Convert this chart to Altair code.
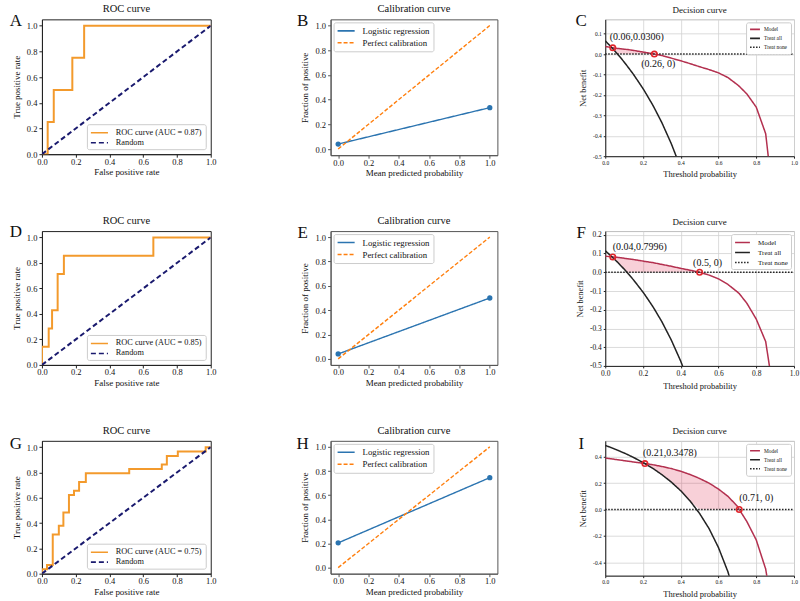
import altair as alt
import pandas as pd

SERIF = "Liberation Serif"
INK = "#111111"
ORANGE = "#F39A2C"
NAVY = "#1a1a6e"
BLUE = "#2b74b0"
TAB_ORANGE = "#ff7f0e"
CRIMSON = "#b3304f"
MARK_RED = "#e0262c"
PATH_LONG = "M-1,0H2.8"
PATH_SHORT = "M-1,0H2.3"

# ---------------- data ----------------
roc_titles = "ROC curve"
cal_title = "Calibration curve"
dca_title = "Decision curve"

# ROC curves
roc_a_fpr = [0.0, 0.034, 0.034, 0.07, 0.07, 0.18, 0.18, 0.25, 0.25, 1.0]
roc_a_tpr = [0.0, 0.0, 0.25, 0.25, 0.5, 0.5, 0.75, 0.75, 1.0, 1.0]
roc_d_fpr = [0.0, 0.0, 0.04, 0.04, 0.06, 0.06, 0.093, 0.093, 0.13, 0.13, 0.66, 0.66, 1.0]
roc_d_tpr = [0.0, 0.143, 0.143, 0.286, 0.286, 0.429, 0.429, 0.714, 0.714, 0.857, 0.857, 1.0, 1.0]
roc_g_fpr = [0.0, 0.0, 0.03, 0.03, 0.064, 0.064, 0.1, 0.1, 0.127, 0.127, 0.16, 0.16, 0.19, 0.19,
             0.22, 0.22, 0.26, 0.26, 0.517, 0.517, 0.71, 0.71, 0.74, 0.74, 0.805, 0.805, 0.97, 0.97, 1.0]
roc_g_tpr = [0.0, 0.034, 0.034, 0.069, 0.069, 0.31, 0.31, 0.379, 0.379, 0.483, 0.483, 0.621, 0.621, 0.655,
             0.655, 0.724, 0.724, 0.793, 0.793, 0.828, 0.828, 0.862, 0.862, 0.931, 0.931, 0.966, 0.966, 1.0, 1.0]
roc_labels = ["ROC curve (AUC = 0.87)", "ROC curve (AUC = 0.85)", "ROC curve (AUC = 0.75)"]
random_x = [0.0, 1.0]
random_y = [0.0, 1.0]

# Calibration curves
cal_x = [0.0, 1.0]
cal_b_y = [0.04, 0.335]
cal_e_y = [0.04, 0.50]
cal_h_y = [0.205, 0.745]
perfect_x = [0.0, 1.0]
perfect_y = [0.0, 1.0]

# Decision curves
dca_thr = [0.0, 0.02, 0.04, 0.06, 0.08, 0.1, 0.12, 0.15, 0.2, 0.21, 0.25, 0.26, 0.3, 0.35,
           0.4, 0.45, 0.5, 0.55, 0.6, 0.65, 0.7, 0.71, 0.75, 0.8, 0.85, 0.9]
model_c = [0.037, 0.034, 0.0306, 0.028, 0.026, 0.024, 0.022, 0.018, 0.01, 0.0085, 0.002, 0.0, -0.007,
           -0.02, -0.033, -0.047, -0.062, -0.076, -0.092, -0.115, -0.15, -0.158, -0.195, -0.26, -0.39, -0.8]
all_c = [0.065, 0.046, 0.026, 0.005, -0.016, -0.039, -0.063, -0.100, -0.169, -0.184, -0.247, -0.264,
         -0.336, -0.439, -0.558, None, None, None, None, None, None, None, None, None, None, None]
model_f = [0.086, 0.084, 0.082, 0.080, 0.078, 0.075, 0.072, 0.068, 0.060, 0.058, 0.052, 0.050, 0.042,
           0.032, 0.021, 0.011, 0.0, -0.015, -0.035, -0.065, -0.105, -0.114, -0.165, -0.25, -0.37, -0.7]
all_f = [0.115, 0.097, 0.078, 0.059, 0.038, 0.017, -0.006, -0.041, -0.106, -0.120, -0.180, -0.196,
         -0.264, -0.362, -0.475, -0.609, None, None, None, None, None, None, None, None, None, None]
model_i = [0.39, 0.386, 0.382, 0.378, 0.374, 0.37, 0.366, 0.36, 0.35, 0.3478, 0.34, 0.337, 0.326,
           0.31, 0.29, 0.265, 0.235, 0.2, 0.155, 0.1, 0.025, 0.0, -0.09, -0.23, -0.45, -0.9]
all_i = [0.485, 0.475, 0.464, 0.452, 0.440, 0.428, 0.415, 0.394, 0.356, 0.348, 0.313, 0.304, 0.264,
         0.208, 0.142, 0.064, -0.030, -0.144, -0.288, -0.471, -0.717, None, None, None, None, None]
none_x = [0.0, 1.0]
none_y = [0.0, 0.0]

mark_c_x, mark_c_y = [0.04, 0.26], [0.0306, 0.0]
mark_f_x, mark_f_y = [0.04, 0.5], [0.082, 0.0]
mark_i_x, mark_i_y = [0.21, 0.71], [0.3478, 0.0]
mark_c_txt = ["(0.06,0.0306)", "(0.26, 0)"]
mark_f_txt = ["(0.04,0.7996)", "(0.5, 0)"]
mark_i_txt = ["(0.21,0.3478)", "(0.71, 0)"]
fill_c = (0.04, 0.26)
fill_f = (0.04, 0.5)
fill_i = (0.21, 0.71)

ticks01 = [0.0, 0.2, 0.4, 0.6, 0.8, 1.0]
MINUS_FIX = "replace(format(datum.value, '.1f'), '\u2212', '-')"


def axis(title, values, lab=8.5, tit=9.0, grid=False, dom="#222222", tick=3, lpad=2, tpad=5):
    return alt.Axis(title=title, values=values, labelExpr=MINUS_FIX,
                    labelFont=SERIF, labelFontSize=lab, labelColor=INK, labelPadding=lpad,
                    labelFlush=False, labelOverlap=False,
                    titleFont=SERIF, titleFontSize=tit, titleFontWeight="normal", titleColor=INK,
                    titlePadding=tpad, tickColor=dom, tickSize=tick, domainColor=dom,
                    grid=grid, gridColor="#d2d2d2", gridWidth=0.8)


def letter_layer(letter, dx, dy):
    return alt.Chart(pd.DataFrame({"t": [letter]})).mark_text(
        font=SERIF, fontSize=17, align="center", baseline="middle", color=INK
    ).encode(text="t:N", x=alt.value(dx), y=alt.value(dy))


def title(text, ldy, size=10.5):
    # the panel letter reaches above the plot; compensate so the title sits ~4px above the frame
    return alt.TitleParams(text, font=SERIF, fontSize=size, fontWeight="normal", color=INK,
                           offset=ldy - 4.5, anchor="middle", frame="group")


def legend(orient, fs, sym, path, offset=4, pad=3, rowpad=0, loff=8):
    return alt.Legend(title=None, orient=orient, offset=offset, fillColor="white",
                      strokeColor="#cccccc", cornerRadius=2, padding=pad, labelFont=SERIF,
                      labelFontSize=fs, labelColor=INK, symbolType=path, symbolSize=sym,
                      symbolStrokeWidth=1.6, rowPadding=rowpad, labelOffset=loff)


def roc_panel(letter, fpr, tpr, label, w, h, ldx, ldy):
    d1 = pd.DataFrame({"x": fpr, "y": tpr, "s": label, "i": list(range(len(fpr)))})
    d2 = pd.DataFrame({"x": random_x, "y": random_y, "s": "Random", "i": [0, 1]})
    df = pd.concat([d1, d2], ignore_index=True)
    dom = [label, "Random"]
    leg = legend("bottom-right", 8.3, 81, PATH_LONG, offset=5, pad=3, rowpad=1, loff=15)
    lines = alt.Chart(df).mark_line(strokeWidth=2, clip=True).encode(
        x=alt.X("x:Q", scale=alt.Scale(domain=[0, 1], nice=False, zero=False),
                axis=axis("False positive rate", ticks01, lpad=0, tpad=2)),
        y=alt.Y("y:Q", scale=alt.Scale(domain=[0, 1.05], nice=False, zero=False),
                axis=axis("True positive rate", ticks01)),
        color=alt.Color("s:N", scale=alt.Scale(domain=dom, range=[ORANGE, NAVY]), legend=leg),
        strokeDash=alt.StrokeDash("s:N", scale=alt.Scale(domain=dom, range=[[1, 0], [5, 3]]), legend=leg),
        order="i:Q",
    )
    return alt.layer(lines, letter_layer(letter, ldx, ldy)).properties(
        width=w, height=h, title=title(roc_titles, ldy),
        view=alt.ViewBackground(stroke="#222222", strokeWidth=1))


def cal_panel(letter, ys, w, h, ldx, ldy):
    d1 = pd.DataFrame({"x": cal_x, "y": ys, "s": "Logistic regression"})
    d2 = pd.DataFrame({"x": perfect_x, "y": perfect_y, "s": "Perfect calibration"})
    df = pd.concat([d1, d2], ignore_index=True)
    dom = ["Logistic regression", "Perfect calibration"]
    leg = legend("top-left", 8.8, 81, PATH_LONG, offset=3, pad=3, rowpad=1, loff=15)
    xs = alt.X("x:Q", scale=alt.Scale(domain=[-0.05, 1.05], nice=False, zero=False),
               axis=axis("Mean predicted probability", ticks01, dom="#555555", lpad=0, tpad=2))
    ysc = alt.Y("y:Q", scale=alt.Scale(domain=[-0.05, 1.05], nice=False, zero=False),
                axis=axis("Fraction of positive", ticks01, dom="#555555"))
    lines = alt.Chart(df).mark_line(strokeWidth=1.4, clip=True).encode(
        x=xs, y=ysc,
        color=alt.Color("s:N", scale=alt.Scale(domain=dom, range=[BLUE, TAB_ORANGE]), legend=leg),
        strokeDash=alt.StrokeDash("s:N", scale=alt.Scale(domain=dom, range=[[1, 0], [4, 2]]), legend=leg),
    )
    pts = alt.Chart(d1).mark_point(filled=True, size=28, color=BLUE, opacity=1).encode(x=xs, y=ysc)
    return alt.layer(lines, pts, letter_layer(letter, ldx, ldy)).properties(
        width=w, height=h, title=title(cal_title, ldy),
        view=alt.ViewBackground(stroke="#555555", strokeWidth=1))


def dca_panel(letter, model, allv, ytop, yticks, mx, my, mtxt, offs, frange, w, h, ldx, ldy,
              tick_fs, leg_fs, leg_sym, leg_off):
    rows = []
    for t, m in zip(dca_thr, model):
        rows.append({"x": t, "y": m, "s": "Model"})
    for t, a in zip(dca_thr, allv):
        if a is not None:
            rows.append({"x": t, "y": a, "s": "Treat all"})
    for t, n in zip(none_x, none_y):
        rows.append({"x": t, "y": n, "s": "Treat none"})
    df = pd.DataFrame(rows)
    fill_rows = []
    for t, m, a in zip(dca_thr, model, allv):
        if frange[0] <= t <= frange[1]:
            lower = 0.0 if a is None else max(a, 0.0)
            fill_rows.append({"x": t, "y": m, "bot": lower})
    fdf = pd.DataFrame(fill_rows)
    dom = ["Model", "Treat all", "Treat none"]
    leg = legend("top-right", leg_fs, leg_sym, PATH_SHORT, offset=3, pad=3, rowpad=1, loff=leg_off)
    xs = alt.X("x:Q", scale=alt.Scale(domain=[0, 1], nice=False, zero=False),
               axis=axis("Threshold probability", ticks01, lab=tick_fs, tit=8.5, grid=True, tick=2, tpad=4))
    ysc = alt.Y("y:Q", scale=alt.Scale(domain=[-0.5, ytop], nice=False, zero=False),
                axis=axis("Net benefit", yticks, lab=tick_fs, tit=8.3, grid=True, tick=2, tpad=5))
    area = alt.Chart(fdf).mark_area(color="#dc143c", opacity=0.2, clip=True).encode(
        x=xs, y=ysc, y2="bot:Q")
    lines = alt.Chart(df).mark_line(strokeWidth=1.5, clip=True).encode(
        x=xs, y=ysc,
        color=alt.Color("s:N", scale=alt.Scale(domain=dom, range=[CRIMSON, "#222222", "#222222"]), legend=leg),
        strokeDash=alt.StrokeDash("s:N", scale=alt.Scale(domain=dom, range=[[1, 0], [1, 0], [1.5, 1.5]]), legend=leg),
    )
    mdf = pd.DataFrame({"x": mx, "y": my, "t": mtxt})
    pts = alt.Chart(mdf).mark_point(shape="circle", filled=False, size=30, strokeWidth=1.6,
                                    color=MARK_RED, opacity=1).encode(x=xs, y=ysc)
    layers = [area, lines, pts]
    for k in range(len(mx)):
        dx, dy, al = offs[k]
        layers.append(alt.Chart(mdf.iloc[[k]]).mark_text(
            font=SERIF, fontSize=10, color=INK, align=al, baseline="middle", dx=dx, dy=dy
        ).encode(x=xs, y=ysc, text="t:N"))
    layers.append(letter_layer(letter, ldx, ldy))
    return alt.layer(*layers).properties(
        width=w, height=h, title=title(dca_title, ldy, size=9),
        view=alt.ViewBackground(stroke="#bdbdbd", strokeWidth=1))


def spacer(w):
    return alt.Chart(pd.DataFrame({"v": [0]})).mark_point(opacity=0).encode(
        x=alt.value(0), y=alt.value(0)).properties(
        width=w, height=1, view=alt.ViewBackground(stroke="transparent"))


W1, W2, W3 = 169, 167, 189

A = roc_panel("A", roc_a_fpr, roc_a_tpr, roc_labels[0], W1, 135, -26, 2)
B = cal_panel("B", cal_b_y, W2, 136, -28, 2)
C = dca_panel("C", model_c, all_c, 0.17, [-0.5, -0.4, -0.3, -0.2, -0.1, 0.0, 0.1],
              mark_c_x, mark_c_y, mark_c_txt, [(-3, -11, "left"), (4, 10, "center")], fill_c,
              W3, 137, -24, 2, 5.5, 5.4, 36, 7)
D = roc_panel("D", roc_d_fpr, roc_d_tpr, roc_labels[1], W1, 134, -26, 1)
E = cal_panel("E", cal_e_y, W2, 134, -28, 2)
F = dca_panel("F", model_f, all_f, 0.22, [-0.5, -0.4, -0.3, -0.2, -0.1, 0.0, 0.1, 0.2],
              mark_f_x, mark_f_y, mark_f_txt, [(0, -10, "left"), (8, -9, "center")], fill_f,
              W3, 135, -24, 2, 7.5, 7.0, 81, 13)
G = roc_panel("G", roc_g_fpr, roc_g_tpr, roc_labels[2], W1, 133, -26, 3)
H = cal_panel("H", cal_h_y, W2, 133, -28, 3)
I = dca_panel("I", model_i, all_i, 0.52, [-0.4, -0.2, 0.0, 0.2, 0.4],
              mark_i_x, mark_i_y, mark_i_txt, [(-2, -11, "left"), (0, -12, "left")], fill_i,
              W3, 135, -24, 3, 5.5, 5.4, 36, 7)

cells = []
for left, mid, right in [(A, B, C), (D, E, F), (G, H, I)]:
    cells += [left, spacer(13), mid, spacer(1), right]

chart = alt.concat(*cells, columns=5,
                   spacing={"row": 75, "column": 53.5}, bounds="flush").resolve_scale(
    x="independent", y="independent", color="independent", strokeDash="independent"
).resolve_legend(color="independent", strokeDash="independent").properties(
    padding={"left": 9, "top": 3, "right": 0, "bottom": 0}, background="white"
)

chart.save("out.html", embed_options={"renderer": "svg", "actions": False})
